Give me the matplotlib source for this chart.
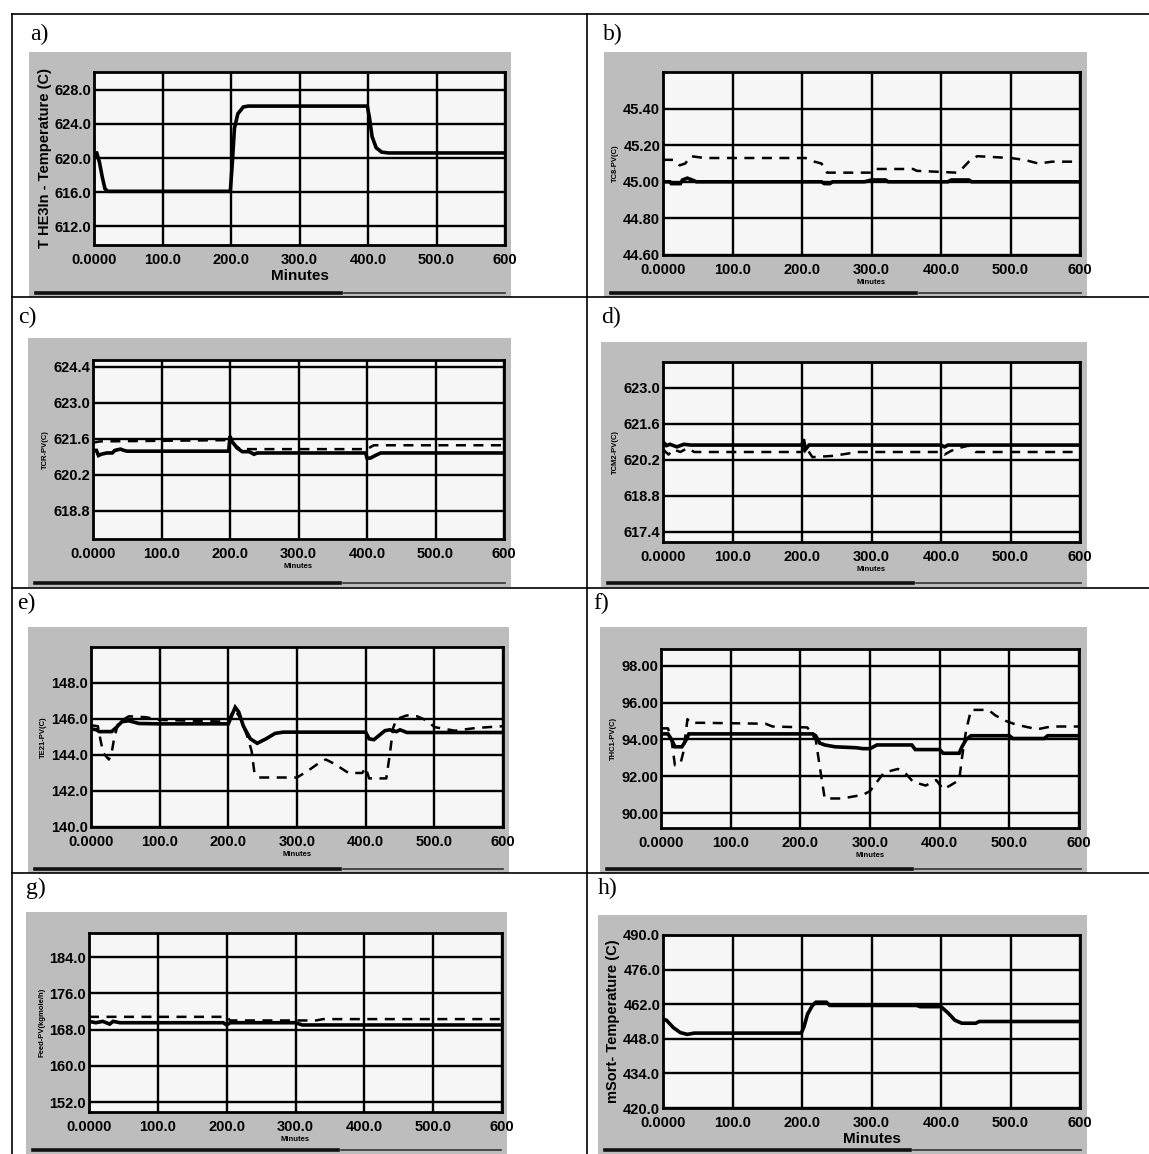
import matplotlib
matplotlib.use("Agg")
import matplotlib.pyplot as plt
from matplotlib.patches import Rectangle
from matplotlib.lines import Line2D

W, H = 1149, 1154

minutes = [0, 100, 200, 300, 400, 500, 600]
minute_labels = ["0.0000", "100.0", "200.0", "300.0", "400.0", "500.0", "600"]

# a) THE3In temperature
a_t = [0, 4, 8, 12, 16, 20, 100, 199, 202, 205, 210, 218, 225, 300, 399, 402, 406, 412, 420, 430, 500, 600]
a_solid = [620.6, 620.6, 619.5, 617.8, 616.4, 616.1, 616.1, 616.1, 619.5, 623.5, 625.2, 626.0, 626.1,
           626.1, 626.1, 624.8, 622.5, 621.2, 620.7, 620.6, 620.6, 620.6]

# b) TC8-PV
b_t = [0, 10, 12, 25, 28, 35, 42, 48, 100, 200, 228, 232, 240, 244, 290, 300, 320, 324, 410, 415, 440, 444, 600]
b_solid = [45.00, 45.00, 44.99, 44.99, 45.01, 45.02, 45.01, 45.00, 45.00, 45.00, 45.00, 44.99, 44.99, 45.00,
           45.00, 45.01, 45.01, 45.00, 45.00, 45.01, 45.01, 45.00, 45.00]
b_dash_t = [0, 15, 24, 32, 40, 60, 205, 218, 228, 236, 300, 305, 360, 365, 422, 430, 440, 452, 500, 520, 540, 560, 600]
b_dash = [45.12, 45.12, 45.09, 45.10, 45.14, 45.13, 45.13, 45.11, 45.10, 45.05, 45.05, 45.07, 45.07, 45.06,
          45.05, 45.07, 45.11, 45.14, 45.13, 45.12, 45.10, 45.11, 45.11]

# c) TCR-PV
c_t = [0, 5, 8, 12, 20, 28, 32, 40, 45, 50, 100, 198, 200, 203, 210, 218, 228, 235, 240, 300, 398, 400, 405,
       412, 420, 600]
c_solid = [621.15, 621.15, 620.95, 621.0, 621.05, 621.05, 621.15, 621.2, 621.15, 621.12, 621.12, 621.12,
           621.7, 621.5, 621.25, 621.1, 621.1, 621.0, 621.05, 621.05, 621.05, 620.85, 620.85, 620.95, 621.05,
           621.05]
c_dash_t = [0, 10, 200, 205, 215, 400, 410, 600]
c_dash = [621.45, 621.5, 621.55, 621.4, 621.2, 621.2, 621.35, 621.35]

# d) TCM2-PV
d_t = [0, 5, 10, 20, 30, 40, 200, 202, 205, 210, 400, 405, 410, 600]
d_solid = [620.9, 620.75, 620.8, 620.7, 620.8, 620.77, 620.77, 621.0, 620.6, 620.77, 620.77, 620.7, 620.77,
           620.77]
d_dash_t = [0, 8, 15, 25, 35, 45, 200, 205, 215, 245, 280, 400, 405, 415, 425, 440, 450, 600]
d_dash = [620.6, 620.4, 620.6, 620.5, 620.65, 620.5, 620.5, 620.7, 620.3, 620.35, 620.5, 620.5, 620.4,
          620.55, 620.65, 620.75, 620.5, 620.5]

# e) TE21-PV
e_t = [0, 8, 12, 30, 36, 45, 55, 70, 100, 200, 205, 210, 215, 222, 232, 242, 255, 268, 280, 300, 400, 405,
       412, 420, 428, 435, 445, 450, 460, 600]
e_solid = [145.45, 145.4, 145.3, 145.3, 145.5, 145.85, 145.9, 145.75, 145.73, 145.73, 146.2, 146.65, 146.4,
           145.6, 144.9, 144.65, 144.9, 145.2, 145.27, 145.27, 145.27, 144.9, 144.85, 145.1, 145.35, 145.4,
           145.3, 145.4, 145.25, 145.25]
e_dash_t = [0, 10, 14, 18, 26, 30, 34, 40, 55, 80, 100, 200, 205, 210, 218, 228, 234, 238, 245, 300, 315,
            330, 342, 355, 375, 395, 400, 405, 430, 435, 440, 445, 460, 475, 490, 500, 530, 560, 600]
e_dash = [145.65, 145.6, 144.8, 144.1, 143.75, 144.1, 145.0, 145.8, 146.15, 146.1, 145.95, 145.85, 146.3,
          146.5, 146.0, 145.0, 144.2, 143.0, 142.75, 142.75, 143.1, 143.5, 143.75, 143.5, 143.0, 143.0, 143.3,
          142.7, 142.7, 144.0, 145.5, 146.0, 146.2, 146.15, 145.9, 145.55, 145.35, 145.5, 145.6]

# f) THC1-PV
f_t = [0, 10, 15, 20, 30, 35, 40, 100, 218, 222, 228, 235, 250, 280, 290, 300, 310, 360, 365, 400, 405, 428,
       432, 438, 445, 500, 505, 550, 555, 600]
f_solid = [94.3, 94.3, 94.0, 93.6, 93.6, 93.9, 94.3, 94.3, 94.3, 94.2, 93.8, 93.7, 93.6, 93.55, 93.5, 93.5,
           93.7, 93.7, 93.45, 93.45, 93.25, 93.25, 93.6, 94.0, 94.2, 94.2, 94.05, 94.05, 94.2, 94.2]
f_dash_t = [0, 10, 15, 20, 28, 32, 38, 42, 60, 150, 160, 210, 222, 228, 235, 260, 290, 300, 312, 320, 340,
            350, 362, 380, 395, 405, 415, 428, 432, 438, 445, 470, 480, 495, 510, 540, 560, 600]
f_dash = [94.6, 94.6, 94.0, 92.6, 92.7, 93.3, 95.1, 94.9, 94.9, 94.85, 94.7, 94.65, 94.0, 92.5, 90.8, 90.8,
          91.0, 91.2, 91.8, 92.2, 92.4, 92.2, 91.7, 91.5, 91.8, 91.3, 91.5, 91.8, 93.0, 94.5, 95.6, 95.6,
          95.3, 95.0, 94.8, 94.55, 94.7, 94.7]

# g) Feed-PV
g_t = [0, 10, 20, 30, 35, 45, 100, 195, 200, 205, 300, 310, 600]
g_solid = [169.8, 169.5, 169.8, 169.2, 169.8, 169.5, 169.5, 169.5, 169.0, 169.5, 169.5, 169.0, 169.0]
g_dash_t = [0, 200, 205, 330, 340, 600]
g_dash = [170.8, 170.8, 170.0, 170.0, 170.3, 170.3]

# h) mSort temperature
h_t = [0, 5, 15, 25, 35, 45, 100, 199, 203, 208, 215, 220, 235, 240, 300, 365, 370, 400, 410, 420, 430, 450,
       455, 600]
h_solid = [456.0, 455.5, 452.5, 450.5, 449.8, 450.3, 450.3, 450.3, 453.0, 458.0, 461.5, 462.8, 462.8, 461.5,
           461.5, 461.5, 461.0, 461.0, 458.5, 455.5, 454.3, 454.3, 455.0, 455.0]

panels = [
    dict(tag="a)", tag_xy=(30, 34), box=(29, 52, 511, 297), plot=(94, 72, 505, 245),
         ylim=(609.8, 630.1), yticks=[612, 616, 620, 624, 628], fmt="{:.1f}",
         ylabel="T HE3In - Temperature (C)", big=True,
         lines=[(a_t, a_solid, "-")]),
    dict(tag="b)", tag_xy=(603, 34), box=(604, 52, 1087, 297), plot=(663, 72, 1080, 255),
         ylim=(44.6, 45.6), yticks=[44.6, 44.8, 45.0, 45.2, 45.4], fmt="{:.2f}",
         ylabel="TC8-PV(C)", big=False,
         lines=[(b_t, b_solid, "-"), (b_dash_t, b_dash, "--")]),
    dict(tag="c)", tag_xy=(18, 317), box=(28, 338, 511, 587), plot=(93, 360, 504, 539),
         ylim=(617.7, 624.67), yticks=[618.8, 620.2, 621.6, 623.0, 624.4], fmt="{:.1f}",
         ylabel="TCR-PV(C)", big=False,
         lines=[(c_t, c_solid, "-"), (c_dash_t, c_dash, "--")]),
    dict(tag="d)", tag_xy=(601, 317), box=(601, 342, 1087, 587), plot=(663, 362, 1080, 542),
         ylim=(617.0, 624.0), yticks=[617.4, 618.8, 620.2, 621.6, 623.0], fmt="{:.1f}",
         ylabel="TCM2-PV(C)", big=False,
         lines=[(d_t, d_solid, "-"), (d_dash_t, d_dash, "--")]),
    dict(tag="e)", tag_xy=(17, 603), box=(28, 627, 509, 873), plot=(91, 647, 503, 827),
         ylim=(140.0, 150.0), yticks=[140, 142, 144, 146, 148], fmt="{:.1f}",
         ylabel="TE21-PV(C)", big=False,
         lines=[(e_t, e_solid, "-"), (e_dash_t, e_dash, "--")]),
    dict(tag="f)", tag_xy=(593, 603), box=(600, 627, 1087, 873), plot=(661, 649, 1079, 828),
         ylim=(89.2, 98.9), yticks=[90, 92, 94, 96, 98], fmt="{:.2f}",
         ylabel="THC1-PV(C)", big=False,
         lines=[(f_t, f_solid, "-"), (f_dash_t, f_dash, "--")]),
    dict(tag="g)", tag_xy=(26, 888), box=(26, 912, 507, 1154), plot=(89, 933, 502, 1112),
         ylim=(149.8, 189.3), yticks=[152, 160, 168, 176, 184], fmt="{:.1f}",
         ylabel="Feed-PV(kgmole/h)", big=False,
         lines=[(g_t, g_solid, "-"), (g_dash_t, g_dash, "--")]),
    dict(tag="h)", tag_xy=(598, 888), box=(598, 915, 1087, 1154), plot=(663, 935, 1080, 1108),
         ylim=(420.0, 490.0), yticks=[420, 434, 448, 462, 476, 490], fmt="{:.1f}",
         ylabel="mSort- Temperature (C)", big=True,
         lines=[(h_t, h_solid, "-")]),
]

tick_font = "Liberation Sans"


def frac(x0, y0, x1, y1):
    return [x0 / W, 1 - y1 / H, (x1 - x0) / W, (y1 - y0) / H]


fig = plt.figure(figsize=(W / 100, H / 100), dpi=100)
fig.patch.set_facecolor("white")

# table frame
for x0, y0, x1, y1 in [(12, 14, W, 14), (12, 14, 12, H), (587, 14, 587, H),
                       (12, 297, W, 297), (12, 588, W, 588), (12, 873, W, 873)]:
    fig.add_artist(Line2D([x0 / W, x1 / W], [1 - y0 / H, 1 - y1 / H], color="black", lw=1.2,
                          transform=fig.transFigure))

for p in panels:
    bx0, by0, bx1, by1 = p["box"]
    r = frac(bx0, by0, bx1, by1)
    fig.add_artist(Rectangle((r[0], r[1]), r[2], r[3], transform=fig.transFigure,
                             facecolor="#bdbdbd", edgecolor="none", zorder=0))
    # scroll bar strip at the bottom of the screenshot
    yb = 1 - (by1 - 4) / H
    fig.add_artist(Line2D([(bx0 + 7) / W, (bx0 + 312) / W], [yb, yb], color="#111111", lw=2.6,
                          transform=fig.transFigure))
    fig.add_artist(Line2D([(bx0 + 315) / W, (bx1 - 6) / W], [yb, yb], color="#333333", lw=1.2,
                          transform=fig.transFigure))

    fig.text(p["tag_xy"][0] / W, 1 - p["tag_xy"][1] / H, p["tag"], fontsize=17,
             family="Liberation Serif", ha="left", va="center")

    ax = fig.add_axes(frac(*p["plot"]))
    ax.set_facecolor("#f6f6f6")
    for t, y, ls in p["lines"]:
        if ls == "-":
            ax.plot(t, y, color="black", lw=2.6, solid_joinstyle="miter", zorder=3)
        else:
            ax.plot(t, y, color="black", lw=1.8, dashes=(4, 3), zorder=3)
    ax.set_xlim(0, 600)
    ax.set_ylim(*p["ylim"])
    ax.set_xticks(minutes)
    ax.set_xticklabels(minute_labels)
    ax.set_yticks(p["yticks"])
    ax.set_yticklabels([p["fmt"].format(v) for v in p["yticks"]])
    ax.grid(True, color="black", lw=1.7)
    ax.set_axisbelow(True)
    for s in ax.spines.values():
        s.set_linewidth(2)
        s.set_color("black")
    ax.tick_params(axis="x", length=0, pad=6)
    ax.tick_params(axis="y", length=0, pad=2)
    for lab in ax.get_xticklabels() + ax.get_yticklabels():
        lab.set_family(tick_font)
        lab.set_fontweight("bold")
        lab.set_fontsize(10.5)
    if p["big"]:
        ax.set_xlabel("Minutes", family=tick_font, fontweight="bold", fontsize=11, labelpad=1)
        ax.set_ylabel(p["ylabel"], family=tick_font, fontweight="bold", fontsize=10.5, labelpad=2)
    else:
        ax.set_xlabel("Minutes", family=tick_font, fontweight="bold", fontsize=5.5, labelpad=1)
        ax.set_ylabel(p["ylabel"], family=tick_font, fontweight="bold", fontsize=5.5, labelpad=3)

fig.savefig("out.png", dpi=100)
